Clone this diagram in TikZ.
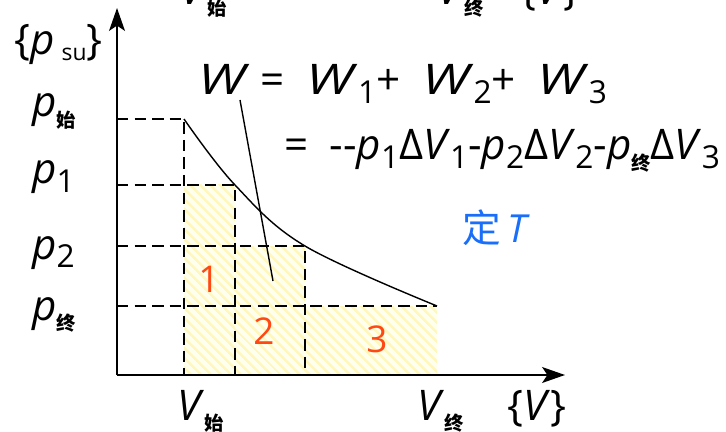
\documentclass[tikz,border=0pt]{standalone}
\usepackage{fontspec}
\setmainfont{Open Sans}
\newfontfamily\cjk{Noto Sans CJK SC}
\usetikzlibrary{arrows.meta,patterns.meta}
\definecolor{numred}{RGB}{255,72,20}
\definecolor{tblue}{RGB}{25,110,250}
\definecolor{hatchfg}{RGB}{255,247,190}
\definecolor{hatchbg}{RGB}{255,255,238}
\newcommand{\zsub}[1]{\raisebox{-6pt}{\cjk\bfseries\fontsize{11}{11}\selectfont #1}}
\newcommand{\nsub}[1]{\raisebox{-5pt}{\fontsize{18}{18}\selectfont #1}}
\newcommand{\bigW}{\scalebox{1.3}[1]{\textit{W}}}

\begin{document}
\begin{tikzpicture}[
    x=0.02cm,y=-0.02cm,
    axis/.style={line width=1.3pt,-{Stealth[length=13pt,width=9pt,inset=3pt]}},
    guide/.style={line width=1.1pt,dash pattern=on 6.5pt off 3.5pt},
    hatch/.style={pattern={Lines[angle=-45,distance=4pt,line width=1.4pt]},pattern color=hatchfg},
    curve/.style={line width=0.8pt},
    lab/.style={font=\fontsize{24}{26}\selectfont,inner sep=0pt,anchor=base west},
    num/.style={font=\fontsize{21}{21}\selectfont,text=numred}
]
\useasboundingbox (0,0) rectangle (726,432);
\coordinate (O) at (117,375);
\coordinate (ytip) at (117,8);
\coordinate (xtip) at (565,375);
\coordinate (A) at (184,119);
\coordinate (B) at (235,185);
\coordinate (C) at (305,246);
\coordinate (D) at (437,306);
\coordinate (Wp) at (240,100);
\coordinate (Wq) at (273,281);

% hatched work areas
\fill[hatchbg] (A|-B) rectangle (B|-O) (B|-C) rectangle (C|-O) (C|-D) rectangle (D|-O);
\fill[hatch] (A|-B) rectangle (B|-O);
\fill[hatch] (B|-C) rectangle (C|-O);
\fill[hatch] (C|-D) rectangle (D|-O);

\draw[guide] (O|-A) -- (A) -- (A|-O);
\draw[guide] (O|-B) -- (B) -- (B|-O);
\draw[guide] (O|-C) -- (C) -- (C|-O);
\draw[guide] (O|-D) -- (D);

\draw[axis] (O) -- (ytip);
\draw[axis] (O) -- (xtip);

\draw[curve] plot[smooth,tension=0.6] coordinates {(A) (B) (C) (D)};
\draw[curve] (Wp) -- (Wq);

% axis labels
\node[lab] (psu) at (14,55) {\{\textit{p}\,\raisebox{-3pt}{\fontsize{13}{13}\selectfont su}\}};
\node[lab] (ps) at (32,117) {\textit{p}\zsub{始}};
\node[lab] (p1) at (32,184) {\textit{p}\nsub{1}};
\node[lab] (p2) at (32,259) {\textit{p}\nsub{2}};
\node[lab] (pe) at (32,320) {\textit{p}\zsub{终}};
\node[lab] (Vs) at (177,420) {\textit{V}\zsub{始}};
\node[lab] (Ve) at (417,420) {\textit{V}\zsub{终}};
\node[lab] (Vax) at (507,420) {\{\textit{V}\}};
\node[lab] (Vs2) at (180,5) {\textit{V}\zsub{始}};
\node[lab] (Ve2) at (437,5) {\textit{V}\zsub{终}};
\node[lab] (Vax2) at (520,5) {\{\textit{V}\}};

% work formula
\node[lab] (Wsum) at (198,95)
  {\bigW\ =\ \ \bigW\nsub{1}+\ \ \bigW\nsub{2}+\ \ \bigW\nsub{3}};
\node[lab] (Wexp) at (284,160)
  {=\enspace-{}-\textit{p}\nsub{1}Δ\textit{V}\nsub{1}-\textit{p}\nsub{2}Δ\textit{V}\nsub{2}-\textit{p}\zsub{终}Δ\textit{V}\nsub{3}};
\node[lab,font=\fontsize{22}{24}\selectfont,text=tblue] (isoT) at (462,242) {{\cjk 定}\,\textit{T}};

\node[num] (n1) at (209,279) {1};
\node[num] (n2) at (264,331) {2};
\node[num] (n3) at (377,339) {3};
\end{tikzpicture}
\end{document}
